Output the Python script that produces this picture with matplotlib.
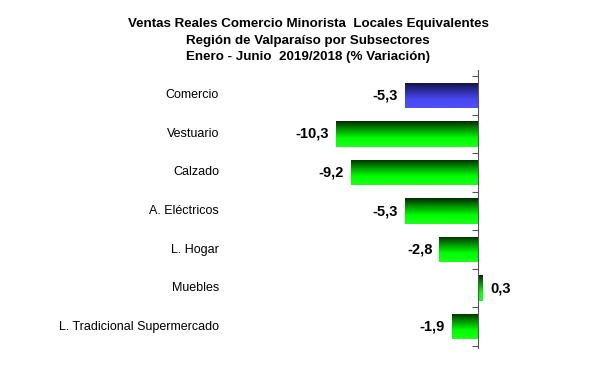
import matplotlib
matplotlib.use('Agg')
import matplotlib.pyplot as plt
from matplotlib.colors import LinearSegmentedColormap
from matplotlib.transforms import blended_transform_factory
import numpy as np

plt.rcParams['font.family'] = ['Liberation Sans', 'DejaVu Sans']

categories = ['Comercio', 'Vestuario', 'Calzado', 'A. Eléctricos', 'L. Hogar',
              'Muebles', 'L. Tradicional Supermercado']
values = [-5.3, -10.3, -9.2, -5.3, -2.8, 0.3, -1.9]
labels = ['-5,3', '-10,3', '-9,2', '-5,3', '-2,8', '0,3', '-1,9']

green = LinearSegmentedColormap.from_list('g', ['#002a00', '#009a00', '#00ff00', '#1aff1a'])
blue = LinearSegmentedColormap.from_list('b', ['#10103c', '#2c2ca0', '#4848f0', '#5050ff'])

fig = plt.figure(figsize=(6.03, 3.66), dpi=100, facecolor='white')
ax = fig.add_axes([0.5135, 0.0546, 0.334, 0.7377])

y = np.arange(len(categories))
bars = ax.barh(y, values, height=0.66, color='none', edgecolor='none')

grad = np.linspace(0, 1, 100).reshape(-1, 1)
for i, bar in enumerate(bars):
    x0, y0 = bar.get_x(), bar.get_y()
    w, h = bar.get_width(), bar.get_height()
    cmap = blue if i == 0 else green
    im = ax.imshow(grad, cmap=cmap, aspect='auto', origin='upper',
                   extent=[x0, x0 + w, y0 + h, y0], interpolation='bilinear', zorder=2)
    im.set_clip_path(bar)

ax.set_xlim(-12.2, 2.4)
ax.set_ylim(len(categories) - 0.5, -0.5)

for i, (v, lab) in enumerate(zip(values, labels)):
    if v < 0:
        ax.annotate(lab, (v, i), xytext=(-5, 0), textcoords='offset points',
                    ha='right', va='center', fontsize=10.5, fontweight='bold')
    else:
        ax.annotate(lab, (v, i), xytext=(6, 0), textcoords='offset points',
                    ha='left', va='center', fontsize=10.5, fontweight='bold')

# etiquetas de categoria alineadas a la derecha
label_tr = blended_transform_factory(fig.transFigure, ax.transData)
for i, c in enumerate(categories):
    ax.text(0.363, i, c, transform=label_tr, ha='right', va='center', fontsize=9)

ax.set_yticks(np.arange(-0.5, len(categories), 1))
ax.set_yticklabels([])
ax.tick_params(axis='y', direction='out', length=4, width=0.8, color='#555555')
ax.set_xticks([])
for s in ['top', 'right', 'bottom']:
    ax.spines[s].set_visible(False)
ax.spines['left'].set_position(('data', 0))
ax.spines['left'].set_color('#555555')
ax.spines['left'].set_bounds(len(categories) - 0.45, -0.65)
ax.set_facecolor('none')

fig.text(0.511, 0.951, 'Ventas Reales Comercio Minorista  Locales Equivalentes\n'
         'Región de Valparaíso por Subsectores\n'
         'Enero - Junio  2019/2018 (% Variación)',
         ha='center', va='top', fontsize=9.6, fontweight='bold', linespacing=1.53)

fig.savefig('out.png', dpi=100, facecolor='white')
